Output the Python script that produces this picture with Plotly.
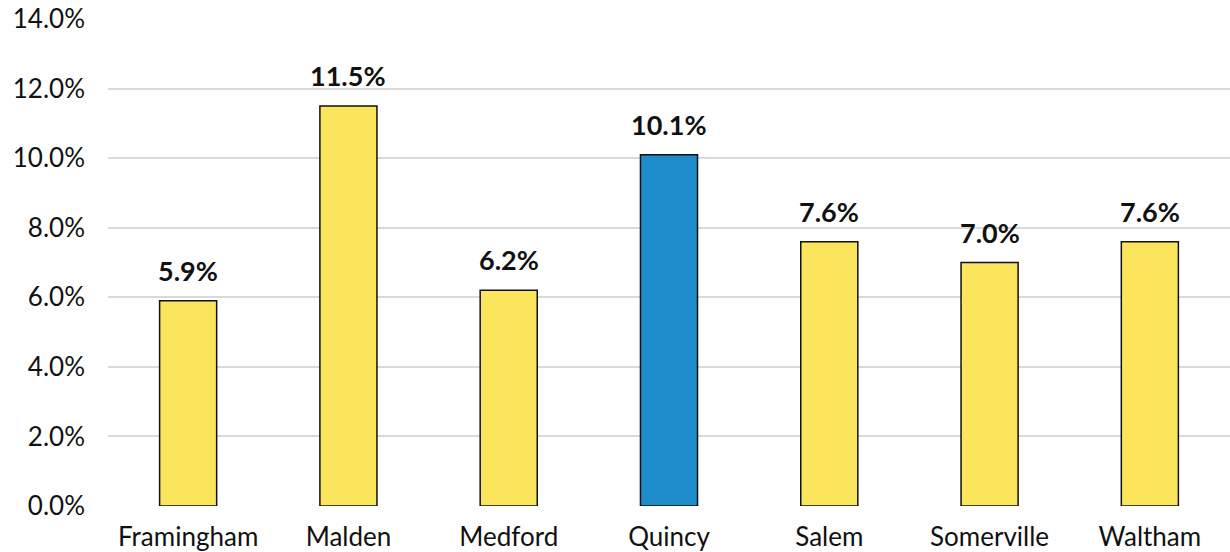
import plotly.graph_objects as go

cities = ["Framingham", "Malden", "Medford", "Quincy", "Salem", "Somerville", "Waltham"]
rates = [5.9, 11.5, 6.2, 10.1, 7.6, 7.0, 7.6]
highlight = "Quincy"
y_ticks = [0, 2, 4, 6, 8, 10, 12, 14]

YELLOW = "#FBE55C"
BLUE = "#1E8BCB"
FONT = "Lato, 'Open Sans', sans-serif"

colors = [BLUE if c == highlight else YELLOW for c in cities]

fig = go.Figure(
    go.Bar(
        x=cities,
        y=rates,
        marker=dict(color=colors, line=dict(color="#111111", width=1.5)),
        width=0.356,
    )
)

for c, v in zip(cities, rates):
    fig.add_annotation(
        x=c, y=v, text=f"<b>{v:.1f}%</b>", showarrow=False,
        yanchor="bottom", yshift=12,
        font=dict(family=FONT, size=27, color="#111111"),
    )

fig.update_layout(
    width=1230, height=552,
    margin=dict(l=108, r=0, t=19, b=46),
    paper_bgcolor="white", plot_bgcolor="white",
    showlegend=False,
    font=dict(family=FONT, size=26, color="#111111"),
)
fig.update_xaxes(showline=False, ticks="", ticklabelstandoff=13,
                 tickfont=dict(size=26))
fig.update_yaxes(range=[0, 14], tickvals=y_ticks,
                 ticktext=[f"{t:.1f}%" for t in y_ticks],
                 showgrid=True, gridcolor="#D9D9D9", gridwidth=2,
                 zeroline=False, ticks="", ticklabelstandoff=22,
                 tickfont=dict(size=26))

fig.write_html("out.html")
